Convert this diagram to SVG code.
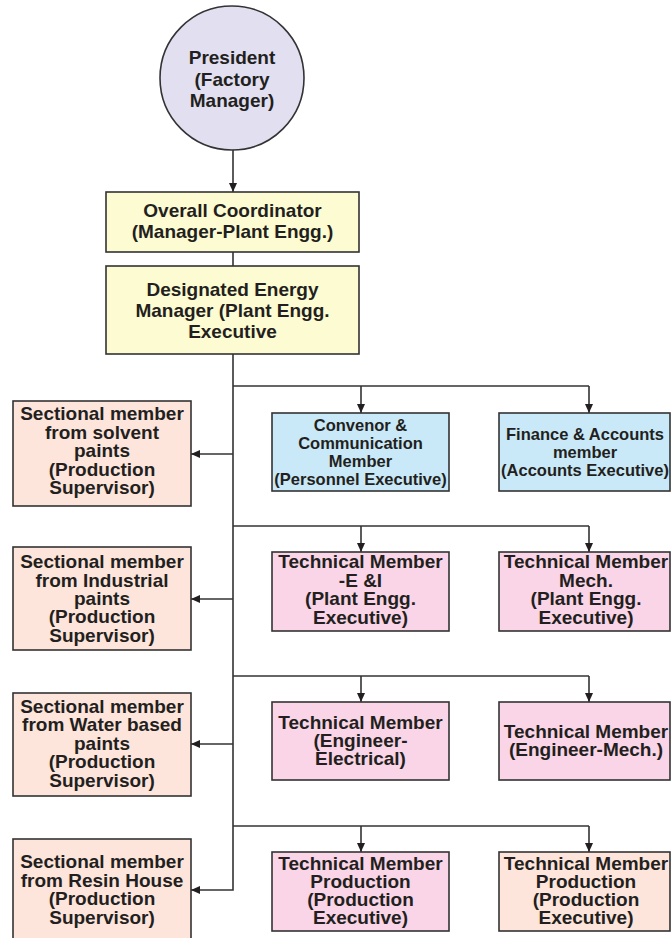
<svg xmlns="http://www.w3.org/2000/svg" width="671" height="938" viewBox="0 0 671 938">
<style>
.box{stroke:#333;stroke-width:1.6}
.y{fill:#fdfbd2}.s{fill:#fde5dc}.b{fill:#c9e9f8}.p{fill:#f9d5e7}
text{font-family:"Liberation Sans",Arial,sans-serif;font-weight:bold;font-size:19px;fill:#231f20;text-anchor:middle}
.sm{font-size:16.5px}
.c{stroke:#333;stroke-width:1.6;fill:none}
</style>
<defs>
<marker id="ah" markerWidth="10" markerHeight="8" refX="9" refY="4" orient="auto" markerUnits="userSpaceOnUse">
<path d="M0,0 L9,4 L0,8 Z" fill="#231f20"/>
</marker>
</defs>
<rect width="671" height="938" fill="#fff"/>
<g id="connectors">
<line class="c" x1="233" y1="150" x2="233" y2="192" marker-end="url(#ah)"/>
<line class="c" x1="233" y1="252" x2="233" y2="266"/>
<polyline class="c" points="233,354 233,890 191,890" marker-end="url(#ah)"/>
<line class="c" x1="233" y1="454" x2="191" y2="454" marker-end="url(#ah)"/>
<line class="c" x1="233" y1="599" x2="191" y2="599" marker-end="url(#ah)"/>
<line class="c" x1="233" y1="744" x2="191" y2="744" marker-end="url(#ah)"/>
<line class="c" x1="233" y1="386" x2="589" y2="386"/>
<line class="c" x1="361" y1="386" x2="361" y2="413" marker-end="url(#ah)"/>
<line class="c" x1="589" y1="386" x2="589" y2="413" marker-end="url(#ah)"/>
<line class="c" x1="233" y1="526" x2="589" y2="526"/>
<line class="c" x1="361" y1="526" x2="361" y2="552" marker-end="url(#ah)"/>
<line class="c" x1="589" y1="526" x2="589" y2="552" marker-end="url(#ah)"/>
<line class="c" x1="233" y1="676" x2="589" y2="676"/>
<line class="c" x1="361" y1="676" x2="361" y2="702" marker-end="url(#ah)"/>
<line class="c" x1="589" y1="676" x2="589" y2="702" marker-end="url(#ah)"/>
<line class="c" x1="233" y1="826" x2="589" y2="826"/>
<line class="c" x1="361" y1="826" x2="361" y2="852" marker-end="url(#ah)"/>
<line class="c" x1="589" y1="826" x2="589" y2="852" marker-end="url(#ah)"/>
</g>
<g id="president">
<circle class="box" cx="232" cy="78" r="72" fill="#e1dff0"/>
<text x="232" y="64">President</text>
<text x="232" y="86">(Factory</text>
<text x="232" y="107">Manager)</text>
</g>
<g id="coordinator">
<rect class="box y" x="106" y="192" width="253" height="60"/>
<text x="232.5" y="217">Overall Coordinator</text>
<text x="232.5" y="238">(Manager-Plant Engg.)</text>
</g>
<g id="energy-manager">
<rect class="box y" x="106" y="266" width="253" height="88"/>
<text x="232.5" y="296">Designated Energy</text>
<text x="232.5" y="317">Manager (Plant Engg.</text>
<text x="232.5" y="338">Executive</text>
</g>
<g id="sec-solvent">
<rect class="box s" x="13" y="401" width="178" height="105"/>
<text x="102" y="420">Sectional member</text>
<text x="102" y="439">from solvent</text>
<text x="102" y="457">paints</text>
<text x="102" y="476">(Production</text>
<text x="102" y="494">Supervisor)</text>
</g>
<g id="sec-industrial">
<rect class="box s" x="13" y="547" width="178" height="103"/>
<text x="102" y="568">Sectional member</text>
<text x="102" y="587">from Industrial</text>
<text x="102" y="605">paints</text>
<text x="102" y="623">(Production</text>
<text x="102" y="642">Supervisor)</text>
</g>
<g id="sec-water">
<rect class="box s" x="13" y="693" width="178" height="103"/>
<text x="102" y="713">Sectional member</text>
<text x="102" y="731">from Water based</text>
<text x="102" y="750">paints</text>
<text x="102" y="768">(Production</text>
<text x="102" y="787">Supervisor)</text>
</g>
<g id="sec-resin">
<rect class="box s" x="13" y="839" width="178" height="104"/>
<text x="102" y="868">Sectional member</text>
<text x="102" y="887">from Resin House</text>
<text x="102" y="905">(Production</text>
<text x="102" y="924">Supervisor)</text>
</g>
<g id="convenor">
<rect class="box b" x="272" y="413" width="177" height="78"/>
<text class="sm" x="360.5" y="431">Convenor &amp;</text>
<text class="sm" x="360.5" y="449">Communication</text>
<text class="sm" x="360.5" y="467">Member</text>
<text class="sm" x="360.5" y="485">(Personnel Executive)</text>
</g>
<g id="finance">
<rect class="box b" x="499" y="413" width="171" height="78"/>
<text class="sm" x="585" y="440">Finance &amp; Accounts</text>
<text class="sm" x="585" y="458">member</text>
<text class="sm" x="585" y="476">(Accounts Executive)</text>
</g>
<g id="tech-ei">
<rect class="box p" x="272" y="552" width="177" height="79"/>
<text x="360.5" y="568">Technical Member</text>
<text x="360.5" y="586.5">-E &amp;I</text>
<text x="360.5" y="605">(Plant Engg.</text>
<text x="360.5" y="623.5">Executive)</text>
</g>
<g id="tech-mech">
<rect class="box p" x="499" y="552" width="171" height="79"/>
<text x="586" y="568">Technical Member</text>
<text x="586" y="586.5">Mech.</text>
<text x="586" y="605">(Plant Engg.</text>
<text x="586" y="623.5">Executive)</text>
</g>
<g id="tech-eng-elec">
<rect class="box p" x="272" y="702" width="177" height="78"/>
<text x="360.5" y="729">Technical Member</text>
<text x="360.5" y="747">(Engineer-</text>
<text x="360.5" y="765">Electrical)</text>
</g>
<g id="tech-eng-mech">
<rect class="box p" x="499" y="702" width="171" height="78"/>
<text x="586" y="738">Technical Member</text>
<text x="586" y="756">(Engineer-Mech.)</text>
</g>
<g id="tech-prod-1">
<rect class="box p" x="272" y="852" width="177" height="79"/>
<text x="360.5" y="870">Technical Member</text>
<text x="360.5" y="888">Production</text>
<text x="360.5" y="906">(Production</text>
<text x="360.5" y="924">Executive)</text>
</g>
<g id="tech-prod-2">
<rect class="box s" x="499" y="852" width="171" height="79"/>
<text x="586" y="870">Technical Member</text>
<text x="586" y="888">Production</text>
<text x="586" y="906">(Production</text>
<text x="586" y="924">Executive)</text>
</g>
</svg>
